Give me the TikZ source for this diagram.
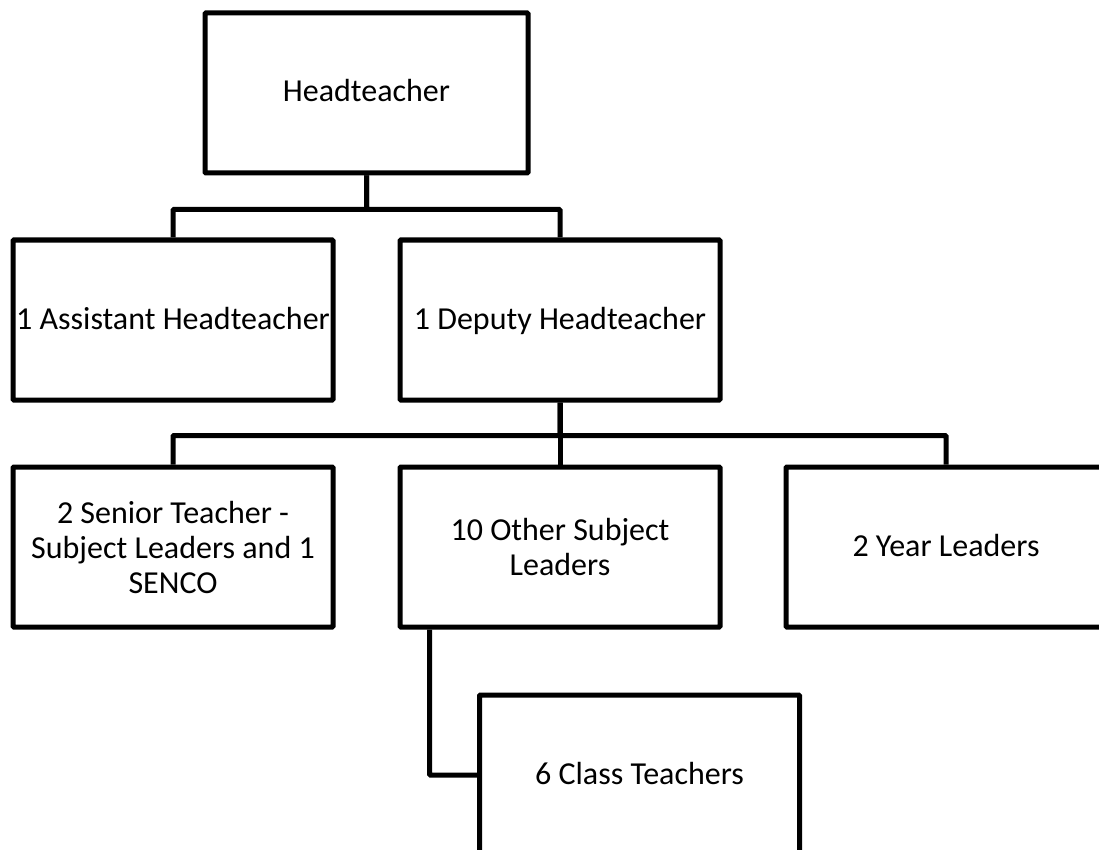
\documentclass[tikz,border=0pt]{standalone}
\usepackage{fontspec}
\usepackage{xcolor}
\usepackage{tikz}
\setmainfont{Carlito}
\definecolor{chartdark}{RGB}{0, 0, 0}

\tikzset{
    rolebox/.style={draw=chartdark, line width=5pt, fill=white, align=center,
        minimum width=320pt, minimum height=160pt, inner sep=2pt,
        rounded corners=1pt, font=\fontsize{32}{35}\selectfont},
    oneline/.style={text height=20pt, text depth=2pt},
    link/.style={draw=chartdark, line width=5pt, rounded corners=1pt}
}

\begin{document}
\begin{tikzpicture}[x=1pt, y=-1pt]
    \useasboundingbox (0,0) rectangle (1099,850);
    \clip (0,0) rectangle (1099,850);

    % Top level
    \node[rolebox, oneline, minimum width=323pt] (head) at (366.5,93) {Headteacher};

    % Second level
    \node[rolebox, oneline] (assistant) at (173,320) {1 Assistant Headteacher};
    \node[rolebox, oneline] (deputy) at (560,320) {1 Deputy Headteacher};

    % Third level
    \node[rolebox] (senior) at (173,547) {2 Senior Teacher -\\Subject Leaders and 1\\SENCO};
    \node[rolebox] (other) at (560,547) {10 Other Subject\\Leaders};
    \node[rolebox, oneline] (year) at (946,547) {2 Year Leaders};

    % Class teachers
    \node[rolebox, oneline] (class) at (639.5,775) {6 Class Teachers};

    % Links
    \draw[link] (head.south) -- ++(0,34) -| (assistant.north);
    \draw[link] (head.south) -- ++(0,34) -| (deputy.north);
    \draw[link] (deputy.south) -- ++(0,33) -| (senior.north);
    \draw[link] (deputy.south) -- ++(0,33) -| (other.north);
    \draw[link] (deputy.south) -- ++(0,33) -| (year.north);
    \draw[link] ([xshift=32pt]other.south west) |- (class.west);
\end{tikzpicture}
\end{document}
